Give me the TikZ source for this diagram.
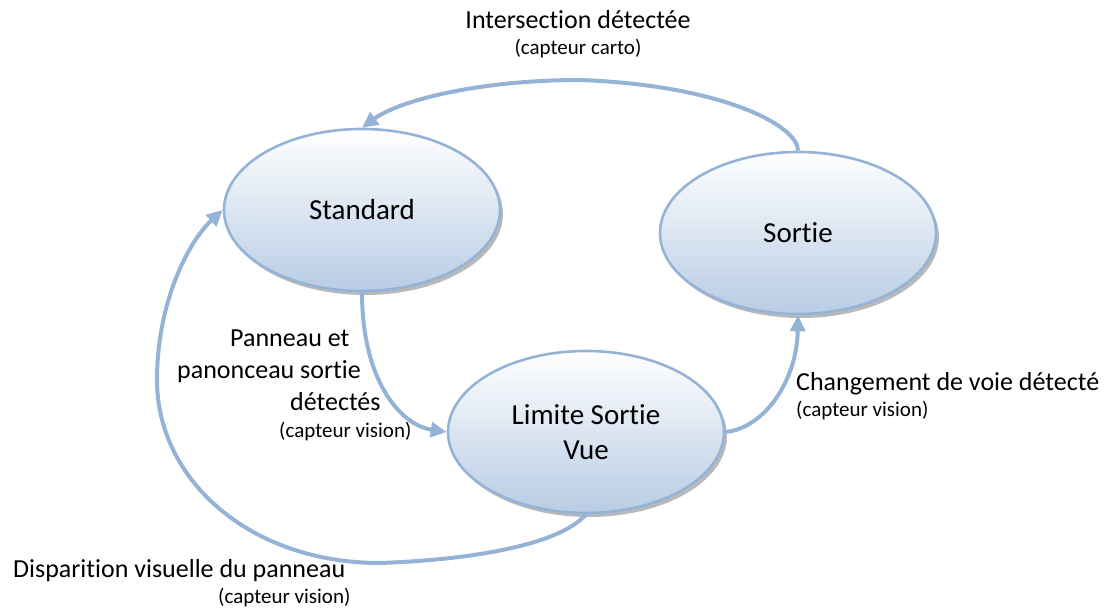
\documentclass[tikz,border=0pt]{standalone}
\usepackage{fontspec}
\setmainfont{Carlito}[Ligatures=NoCommon,RawFeature={-liga}]
\usetikzlibrary{shapes.geometric,arrows.meta,shadows}
\definecolor{edgeblue}{RGB}{149,179,215}
\definecolor{fillblue}{RGB}{184,204,228}
\begin{document}
\begin{tikzpicture}[x=1pt,y=-1pt,
  state/.style={ellipse, draw=edgeblue, line width=2.6pt, minimum width=276pt, minimum height=162pt,
    inner sep=0pt, top color=white, bottom color=fillblue, align=center,
    font=\fontsize{29}{35}\selectfont,
    drop shadow={shadow xshift=3pt, shadow yshift=-4pt, fill=gray!55, opacity=1}},
  trans/.style={draw=edgeblue, line width=4pt, -{Triangle[length=16pt,width=15pt]}},
  lbl/.style={inner sep=0pt, font=\fontsize{26}{32}\selectfont},
  sub/.style={inner sep=0pt, font=\fontsize{21}{26}\selectfont}]
\useasboundingbox (0,0) rectangle (1112,609);

\node[state] (standard) at (362,210) {Standard};
\node[state] (limite) at (586,432) {Limite Sortie\\Vue};
\node[state] (sortie) at (798,233) {Sortie};

\draw[trans] (sortie.north) .. controls (798,125) and (720,85) .. (580,80)
  .. controls (480,80) and (400,100) .. (standard.north);
\draw[trans] (standard.south) .. controls (362,380) and (400,425) .. (limite.west);
\draw[trans] (limite.east) .. controls (765,428) and (797,380) .. (sortie.south);
\draw[trans] (limite.south) .. controls (560,545) and (470,560) .. (380,563)
  .. controls (250,563) and (157,480) .. (157,380)
  .. controls (157,300) and (190,240) .. (standard.west);

\node[lbl, anchor=base] (t1) at (578,29) {Intersection détectée};
\node[sub, anchor=base] (t1s) at (578,55) {(capteur carto)};

\node[lbl, anchor=base west] (t2a) at (230,347) {Panneau et};
\node[lbl, anchor=base west] (t2b) at (177,379) {panonceau sortie};
\node[lbl, anchor=base west] (t2c) at (290,411) {détectés};
\node[sub, anchor=base west] (t2s) at (279,438) {(capteur vision)};

\node[lbl, anchor=base west] (t3) at (796,391) {Changement de voie détecté};
\node[sub, anchor=base west] (t3s) at (796,417) {(capteur vision)};

\node[lbl, anchor=base west] (t4) at (13,577) {Disparition visuelle du panneau};
\node[sub, anchor=base west] (t4s) at (218,603) {(capteur vision)};
\end{tikzpicture}
\end{document}
